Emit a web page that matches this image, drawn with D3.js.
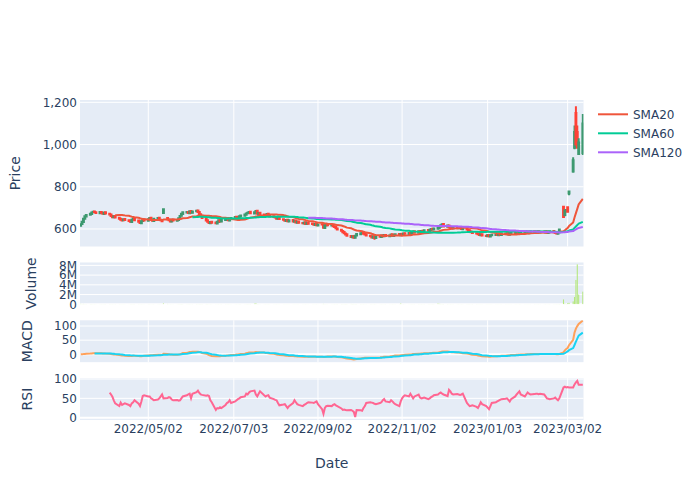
<!DOCTYPE html>
<html><head><meta charset="utf-8">
<script src="https://cdn.jsdelivr.net/npm/d3@7"></script>
<style>body{margin:0;background:#fff}svg{display:block}text{font-family:"DejaVu Sans",Verdana,sans-serif;fill:#2a3f5f}</style>
</head><body><svg id="c" width="700" height="500"></svg>
<script>
// ---------------- DATA ----------------
const firstDay = "2022-03-14", lastDay = "2023-03-13"; // weekday trading calendar
const open = [615,623,633,649,659,667,671,679,683,679,675,681,676,671,679,672,669,661,655,661,
653,649,643,641,647,641,639,633,645,651,640,635,627,638,646,639,645,653,643,638,
649,653,644,642,676,652,645,642,635,645,639,642,650,663,671,678,681,675,685,677,
684,687,681,670,663,651,641,633,627,634,631,626,633,642,635,642,645,652,640,647,
653,658,653,647,659,663,667,674,676,682,673,678,686,671,677,668,666,663,672,662,
660,656,653,648,653,646,643,638,644,636,642,634,640,630,635,628,626,632,623,630,
626,623,619,624,617,622,620,605,617,622,617,621,612,610,602,596,591,586,579,575,
567,561,567,558,569,575,581,585,576,575,568,566,559,565,557,567,562,570,565,572,
566,568,575,567,571,576,570,577,572,580,576,582,576,583,589,582,590,583,592,586,
595,591,595,601,597,601,604,611,617,623,611,617,611,605,602,609,603,609,604,599,
606,596,594,588,586,580,578,576,570,575,568,566,572,564,570,572,576,570,578,572,
579,575,581,573,577,583,579,585,577,581,586,582,588,580,584,589,587,581,589,583,
588,583,589,581,585,590,586,582,577,585,705,666,684,703,768,872,985,1150,1060,955,960];
const high = [625,637,651,664,670,676,682,686,687,682,683,684,679,681,682,675,672,664,663,664,
656,652,646,649,650,644,642,647,653,654,643,638,640,648,649,649,655,656,646,651,
655,656,647,645,698,656,648,645,647,648,646,654,665,675,683,684,684,687,688,686,
690,690,684,673,666,654,644,636,636,637,634,637,644,645,646,649,654,655,651,655,
660,661,656,663,667,671,676,680,685,685,682,688,689,679,680,671,669,674,675,665,
663,659,656,655,656,649,646,646,647,644,645,642,643,637,638,631,634,635,632,633,
629,626,626,627,624,626,623,619,624,625,623,624,615,613,605,599,594,589,582,578,
570,569,570,571,579,583,587,588,579,578,571,569,567,568,569,570,572,573,574,575,
572,577,578,575,578,579,579,580,582,583,584,585,587,591,592,592,593,594,595,597,
598,599,603,604,605,608,615,621,627,626,619,620,614,608,611,612,611,612,607,608,
609,599,597,591,589,583,581,579,577,578,571,574,575,572,576,578,579,580,581,581,
582,583,584,581,585,586,587,588,585,588,589,590,591,588,591,592,590,591,592,590,
591,591,592,589,592,593,589,585,587,600,708,692,694,706,782,940,1090,1181,1090,1030,1145];
const low = [611,620,630,646,656,664,668,675,677,672,671,674,668,668,670,665,659,652,652,651,
645,641,636,638,639,635,630,630,642,638,631,624,624,635,637,636,642,641,635,635,
646,642,637,633,672,642,637,632,632,637,635,639,647,660,668,675,672,672,675,674,
681,677,668,659,649,637,630,624,624,627,623,623,630,633,632,639,642,638,637,644,
650,651,645,644,656,660,664,671,673,671,670,675,669,668,666,664,661,660,660,656,
654,651,646,645,644,641,636,635,634,633,632,631,628,627,626,624,623,621,620,622,
621,617,616,615,614,618,603,602,614,615,614,610,606,600,594,589,582,577,571,565,
559,558,555,554,566,572,578,574,571,566,562,556,555,549,553,560,559,563,562,564,
563,565,565,564,568,568,567,570,569,574,573,574,573,580,580,579,581,580,584,583,
589,588,592,595,594,598,601,608,614,609,608,607,603,600,599,601,600,600,597,596,
594,590,586,582,578,576,572,568,567,566,564,563,562,561,567,569,568,567,570,569,
573,572,571,570,574,577,576,575,574,578,580,579,578,577,581,583,579,578,581,580,
581,580,579,578,582,582,578,575,574,582,652,660,680,678,760,866,978,995,980,951,951];
const close = [622,634,648,660,666,672,678,682,680,676,680,677,672,678,673,668,662,656,660,654,
648,644,640,646,642,638,634,644,650,641,634,628,637,645,640,646,652,644,639,648,
652,645,641,637,694,646,641,636,644,640,643,651,662,672,679,680,676,684,678,683,
686,680,671,662,652,640,634,628,633,630,627,634,641,636,643,646,651,641,648,652,
657,654,648,660,664,668,673,677,681,674,679,685,672,676,669,667,664,671,663,659,
657,654,649,652,647,644,639,643,637,641,635,639,631,634,629,627,631,624,629,625,
624,620,623,618,621,621,606,616,621,618,620,613,609,603,597,592,585,580,574,568,
562,566,559,568,576,580,584,577,574,569,565,560,564,558,566,563,569,566,571,567,
569,574,568,572,575,571,576,573,579,577,581,577,584,588,583,589,584,591,587,594,
592,596,600,598,602,605,612,618,622,612,616,610,606,603,608,604,608,603,600,605,
597,593,589,585,581,579,575,571,574,569,567,571,565,569,573,575,571,577,573,578,
576,580,574,578,582,580,584,578,582,585,583,587,581,585,588,586,582,588,584,587,
584,588,582,586,589,585,581,578,584,597,657,688,690,682,778,925,1060,1000,985,1010,1100];
// volume in thousands of shares
const volumeK = [85,62,70,55,48,52,60,44,38,41,35,40,33,47,39,42,51,36,30,45,
38,33,41,29,35,31,37,48,52,40,34,43,39,36,30,41,46,35,32,44,
38,36,30,33,160,72,45,38,35,31,36,44,58,61,55,42,39,47,40,36,
45,41,52,48,57,66,50,44,38,35,40,37,42,33,39,36,41,45,34,38,
35,32,37,48,40,43,46,50,55,49,120,180,64,45,41,37,35,42,38,33,
31,36,34,38,32,30,35,33,29,34,31,28,36,30,33,29,32,35,30,28,
31,34,29,33,30,36,75,48,37,32,30,38,41,45,50,53,48,56,52,60,
70,58,66,62,51,46,43,40,37,35,38,42,36,45,39,34,37,33,36,31,
35,32,38,34,40,36,150,44,39,35,38,33,41,45,37,42,36,44,39,47,
41,45,52,48,56,140,90,72,65,58,50,44,41,38,42,36,39,34,37,40,
45,42,39,36,41,35,38,33,36,31,34,30,37,33,29,32,35,30,34,31,
29,33,30,28,32,35,31,29,34,30,32,28,31,35,30,33,29,32,36,31,
30,34,29,33,38,35,40,36,45,60,1000,110,60,200,300,600,1500,5000,8200,2000,2600];
const rsi = [null,null,null,null,null,null,null,null,null,null,null,null,null,null,null,
65,60,54,45,37,
30,39,33,35,37,33,30,37,40,45,36,30,42,56,58,55,55,50,48,45,
47,50,55,60,50,51,53,52,47,45,46,44,45,50,55,58,60,62,50,62,
66,70,64,60,59,57,58,56,45,40,20,25,24,27,25,33,38,40,45,38,
42,45,48,50,53,55,62,60,65,68,70,60,55,62,68,58,55,57,58,52,
48,46,45,38,32,34,35,30,25,30,38,45,40,35,33,30,33,35,38,40,
39,38,40,42,35,22,10,25,30,31,30,33,35,32,30,24,20,21,20,19,
20,18,15,2,20,19,18,25,30,38,40,39,38,36,35,38,40,45,48,42,
40,45,42,38,35,30,42,50,55,58,55,62,56,50,55,60,52,50,51,52,
48,50,53,55,58,60,63,65,62,60,56,72,68,62,60,61,60,59,60,62,
38,34,30,31,32,28,25,32,40,35,30,26,22,30,38,40,42,44,46,48,
49,50,46,42,48,55,60,64,68,60,55,60,65,62,60,61,62,62,61,62,
60,55,50,49,48,50,52,48,45,50,78,80,78,79,78,78,86,91,95,85,85];
const smaNames = ["SMA20","SMA60","SMA120"];
const smaWindows = [20,60,120];
const priceTicks = [600,800,1000,1200];
const volumeTicks = [0,2e6,4e6,6e6,8e6];
const macdTicks = [0,50,100];
const rsiTicks = [0,50,100];
const dateTicks = ["2022/05/02","2022/07/03","2022/09/02","2022/11/02","2023/01/03","2023/03/02"];

// ---------------- STYLE ----------------
const C = {inc:"#3D9970",dec:"#FF4136",sma:["#EF553B","#00CC96","#AB63FA"],
  macd:"#FFA15A",signal:"#19D3F3",rsi:"#FF6692",vol:"#B6E880",bg:"#E5ECF6",text:"#2a3f5f"};

const parse = d3.utcParse("%Y-%m-%d");
const dates = d3.utcDays(parse(firstDay), d3.utcDay.offset(parse(lastDay),1))
  .filter(d => d.getUTCDay() !== 0 && d.getUTCDay() !== 6);
const volume = volumeK.map(v => v*1000);

// derived indicators
const sma = smaWindows.map(n => close.map((_,i) => i < n-1 ? null : d3.mean(close.slice(i-n+1,i+1))));
function ema(arr, span){ const a = 2/(span+1); let num=0, den=0;
  return arr.map(v => { num = v + (1-a)*num; den = 1 + (1-a)*den; return num/den; }); }
const e12 = ema(close,12), e26 = ema(close,26);
const macd = close.map((_,i) => e12[i]-e26[i]);
const sig = ema(macd,9).map((v,i) => i < 8 ? null : v);

const svg = d3.select("#c");
const xL = 80, xR = 583.5;
const x = d3.scaleUtc()
  .domain([d3.utcHour.offset(dates[0],-12), d3.utcHour.offset(dates[dates.length-1],12)])
  .range([xL, xR]);
const tickDates = dateTicks.map(d3.utcParse("%Y/%m/%d"));

const panels = [
  {key:"price", top:100, bot:246.5, dom:[517,1211], ticks:priceTicks, fmt:d3.format(","), title:"Price", tx:15, vgrid:true, zero:false},
  {key:"vol", top:262.46, bot:304.3, dom:[0,8.6e6], ticks:volumeTicks, fmt:d3.format("~s"), title:"Volume", tx:31.5, vgrid:false, zero:true},
  {key:"macd", top:320.3, bot:362.15, dom:[-27.7,120.2], ticks:macdTicks, fmt:d3.format("d"), title:"MACD", tx:27, vgrid:true, zero:true},
  {key:"rsi", top:378.15, bot:420, dom:[-5.9,102.2], ticks:rsiTicks, fmt:d3.format("d"), title:"RSI", tx:27, vgrid:true, zero:true}
];
const defs = svg.append("defs");
const Y = {}, G = {};
panels.forEach(p => {
  const y = d3.scaleLinear().domain(p.dom).range([p.bot, p.top]);
  Y[p.key] = y;
  svg.append("rect").attr("x",xL).attr("y",p.top).attr("width",xR-xL).attr("height",p.bot-p.top).attr("fill",C.bg);
  if (p.vgrid) svg.append("g").selectAll("line").data(tickDates).join("line")
    .attr("x1",d=>x(d)).attr("x2",d=>x(d)).attr("y1",p.top).attr("y2",p.bot)
    .attr("stroke","#fff").attr("stroke-width",1);
  svg.append("g").selectAll("line").data(p.ticks).join("line")
    .attr("x1",xL).attr("x2",xR).attr("y1",d=>y(d)).attr("y2",d=>y(d))
    .attr("stroke","#fff").attr("stroke-width",d => (p.zero && d===0) ? 2 : 1);
  svg.append("g").selectAll("text").data(p.ticks).join("text")
    .attr("x",77).attr("y",d=>y(d)).attr("dy","0.35em").attr("text-anchor","end")
    .attr("font-size",12).text(p.fmt);
  svg.append("text").attr("transform",`translate(${p.tx},${(p.top+p.bot)/2}) rotate(-90)`)
    .attr("text-anchor","middle").attr("dy","0.35em").attr("font-size",14).text(p.title);
  defs.append("clipPath").attr("id","clip-"+p.key).append("rect")
    .attr("x",xL).attr("y",p.top).attr("width",xR-xL).attr("height",p.bot-p.top);
  G[p.key] = svg.append("g").attr("clip-path",`url(#clip-${p.key})`);
});

// candles
const yp = Y.price, bw = 0.45;
G.price.append("g").selectAll("path").data(dates).join("path")
  .attr("d",(d,i) => {
    const cx = x(d), yo = yp(open[i]), yc = yp(close[i]);
    const t = Math.min(yo,yc), b = Math.max(yo,yc);
    return `M${cx-bw},${t}H${cx+bw}V${b}H${cx-bw}Z M${cx},${yp(high[i])}V${t} M${cx},${b}V${yp(low[i])}`;
  })
  .attr("fill",(d,i) => close[i] > open[i] ? C.inc : C.dec).attr("fill-opacity",0.5)
  .attr("stroke",(d,i) => close[i] > open[i] ? C.inc : C.dec).attr("stroke-width",2);

const lineGen = (y, vals) => d3.line().defined((d,i)=>vals[i]!=null).x(d=>x(d)).y((d,i)=>y(vals[i]));
sma.forEach((s,k) => G.price.append("path").datum(dates).attr("d",lineGen(yp,s))
  .attr("fill","none").attr("stroke",C.sma[k]).attr("stroke-width",2).attr("stroke-linejoin","round"));

// volume
const yv = Y.vol;
G.vol.append("g").selectAll("rect").data(dates).join("rect")
  .attr("x",d=>x(d)-0.55).attr("width",1.1)
  .attr("y",(d,i)=>yv(volume[i])).attr("height",(d,i)=>yv(0)-yv(volume[i]))
  .attr("fill",C.vol);

// macd
G.macd.append("path").datum(dates).attr("d",lineGen(Y.macd,macd)).attr("fill","none").attr("stroke",C.macd).attr("stroke-width",2);
G.macd.append("path").datum(dates).attr("d",lineGen(Y.macd,sig)).attr("fill","none").attr("stroke",C.signal).attr("stroke-width",2);
// rsi
G.rsi.append("path").datum(dates).attr("d",lineGen(Y.rsi,rsi)).attr("fill","none").attr("stroke",C.rsi).attr("stroke-width",2);

// x axis labels
svg.append("g").selectAll("text").data(tickDates).join("text")
  .attr("x",d=>x(d)).attr("y",429).attr("dy","0.35em").attr("text-anchor","middle").attr("font-size",12)
  .text(d3.utcFormat("%Y/%m/%d"));
svg.append("text").attr("x",(xL+xR)/2).attr("y",463).attr("dy","0.35em").attr("text-anchor","middle")
  .attr("font-size",14).text("Date");

// legend
const lg = svg.append("g").selectAll("g").data(smaNames).join("g")
  .attr("transform",(d,i)=>`translate(598,${114.3+i*19})`);
lg.append("line").attr("x1",0).attr("x2",30).attr("stroke",(d,i)=>C.sma[i]).attr("stroke-width",2);
lg.append("text").attr("x",35).attr("dy","0.35em").attr("font-size",12).text(d=>d);
</script></body></html>
